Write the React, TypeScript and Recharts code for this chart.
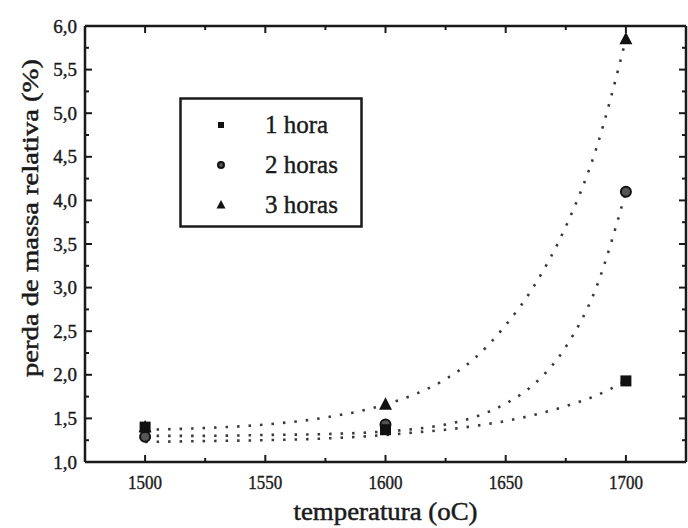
import React from 'react'
import { ComposedChart, Line, Scatter, XAxis, YAxis, Legend, Label } from 'recharts'

// measured points
const temperatures = [1500, 1600, 1700]
const umaHora = [1.4, 1.37, 1.93]
const duasHoras = [1.29, 1.43, 4.1]
const tresHoras = [1.4, 1.66, 5.85]

// dotted fit curves
const fitTemperatures = [1500, 1525, 1550, 1575, 1600, 1612.5, 1625, 1637.5, 1650, 1662.5, 1675, 1687.5, 1700]
const fitUmaHora = [1.23, 1.24, 1.25, 1.27, 1.31, 1.34, 1.37, 1.415, 1.47, 1.545, 1.64, 1.76, 1.93]
const fitDuasHoras = [1.3, 1.3, 1.31, 1.32, 1.35, 1.38, 1.43, 1.52, 1.67, 1.91, 2.32, 2.99, 4.1]
const fitTresHoras = [1.37, 1.39, 1.43, 1.51, 1.66, 1.78, 1.95, 2.2, 2.57, 3.05, 3.7, 4.58, 5.85]

const xTicks = [1500, 1525, 1550, 1575, 1600, 1625, 1650, 1675, 1700]
const yTicks = [1, 1.25, 1.5, 1.75, 2, 2.25, 2.5, 2.75, 3, 3.25, 3.5, 3.75, 4, 4.25, 4.5, 4.75, 5, 5.25, 5.5, 5.75, 6]

const seriesNames = ['1 hora', '2 horas', '3 horas']

const FONT = '"Liberation Serif", "Times New Roman", serif'
const INK = '#1a1a1a'

const toPoints = (xs: number[], ys: number[]) => xs.map((x, i) => ({ x, y: ys[i] }))

const isMajorX = (v: number) => v % 50 === 0
const isMajorY = (v: number) => Math.abs(v * 2 - Math.round(v * 2)) < 1e-6
const fmtY = (v: number) => v.toFixed(1).replace('.', ',')

const MAJOR = 7
const MINOR = 4

const BottomTick = (props: any) => {
  const { x, y, payload } = props
  const major = isMajorX(payload.value)
  return (
    <g>
      <line x1={x} x2={x} y1={y} y2={y - (major ? MAJOR : MINOR)} stroke={INK} strokeWidth={2} />
      {major && (
        <text x={x} y={y + 27} textAnchor='middle' fontFamily={FONT} fontSize={19} fill={INK}
          textLength={34} lengthAdjust='spacingAndGlyphs' stroke={INK} strokeWidth={0.4}>
          {payload.value}
        </text>
      )}
    </g>
  )
}

const TopTick = (props: any) => {
  const { x, y, payload } = props
  const major = isMajorX(payload.value)
  return <line x1={x} x2={x} y1={y} y2={y + (major ? MAJOR : MINOR)} stroke={INK} strokeWidth={2} />
}

const LeftTick = (props: any) => {
  const { x, y, payload } = props
  const major = isMajorY(payload.value)
  return (
    <g>
      <line x1={x} x2={x + (major ? MAJOR : MINOR)} y1={y} y2={y} stroke={INK} strokeWidth={2} />
      {major && (
        <text x={x - 8} y={y} textAnchor='end' dominantBaseline='central' fontFamily={FONT} fontSize={19}
          fill={INK} stroke={INK} strokeWidth={0.4}>
          {fmtY(payload.value)}
        </text>
      )}
    </g>
  )
}

const RightTick = (props: any) => {
  const { x, y, payload } = props
  const major = isMajorY(payload.value)
  return <line x1={x} x2={x - (major ? MAJOR : MINOR)} y1={y} y2={y} stroke={INK} strokeWidth={2} />
}

const drawSquare = (cx: number, cy: number, s: number) => (
  <rect x={cx - s / 2} y={cy - s / 2} width={s} height={s} fill='#111' />
)
const drawDot = (cx: number, cy: number, s: number) => (
  <circle cx={cx} cy={cy} r={s / 2} fill='#555' stroke='#111' strokeWidth={2} />
)
const drawTri = (cx: number, cy: number, s: number) => (
  <polygon
    points={`${cx},${cy - s * 0.55} ${cx - s / 2},${cy + s * 0.4} ${cx + s / 2},${cy + s * 0.4}`}
    fill='#111'
  />
)

const markers = [drawSquare, drawDot, drawTri]

const LegendBox = () => (
  <svg width={184} height={131} style={{ display: 'block' }}>
    <rect x={1.5} y={1.5} width={181} height={128} fill='#fff' stroke={INK} strokeWidth={2.5} />
    {seriesNames.map((name, i) => {
      const cy = 28 + i * 40
      return (
        <g key={name}>
          {markers[i](42, cy, i === 2 ? 9 : 6)}
          <text x={86} y={cy + 8} fontFamily={FONT} fontSize={25} fill={INK} stroke={INK} strokeWidth={0.4}>
            {name}
          </text>
        </g>
      )
    })}
  </svg>
)

const curveStyle = {
  stroke: '#3a3a3a',
  strokeWidth: 2.6,
  strokeDasharray: '2.5 9',
  dot: false as const,
  activeDot: false as const,
  isAnimationActive: false,
  type: 'monotone' as const,
  xAxisId: 'bottom',
  yAxisId: 'left',
  dataKey: 'y',
  legendType: 'none' as const,
}

export default function App() {
  return (
    <div style={{ position: 'absolute', left: 0, top: 0, background: '#fff' }}>
      <ComposedChart width={688} height={528} margin={{ top: 25, right: 1, bottom: 0, left: 0 }}>
        <XAxis xAxisId='bottom' dataKey='x' type='number' domain={[1475, 1725]} ticks={xTicks} interval={0}
          allowDataOverflow orientation='bottom' height={66} tickSize={0} tickMargin={0} tickLine={false}
          tick={<BottomTick />} axisLine={{ stroke: INK, strokeWidth: 2.5 }}>
          <Label
            content={(p: any) => {
              const vb = p.viewBox
              return (
                <text x={vb.x + vb.width / 2} y={vb.y + 58} textAnchor='middle' fontFamily={FONT} fontSize={26}
                  fill={INK} stroke={INK} strokeWidth={0.5} textLength={184} lengthAdjust='spacingAndGlyphs'>
                  temperatura (oC)
                </text>
              )
            }}
          />
        </XAxis>
        <XAxis xAxisId='top' dataKey='x' type='number' domain={[1475, 1725]} ticks={xTicks} interval={0}
          allowDataOverflow orientation='top' height={1} tickSize={0} tickMargin={0} tickLine={false}
          tick={<TopTick />} axisLine={{ stroke: INK, strokeWidth: 2.5 }} />
        <YAxis yAxisId='left' type='number' domain={[1, 6]} ticks={yTicks} interval={0} allowDataOverflow
          width={85} tickSize={0} tickMargin={0} tickLine={false} tick={<LeftTick />}
          axisLine={{ stroke: INK, strokeWidth: 2.5 }}>
          <Label
            content={(p: any) => {
              const vb = p.viewBox
              const cx = vb.x + 30
              const cy = vb.y + vb.height / 2 - 26
              return (
                <text x={cx} y={cy} transform={`rotate(-90 ${cx} ${cy})`} textAnchor='middle'
                  dominantBaseline='central' fontFamily={FONT} fontSize={24} fill={INK} stroke={INK}
                  strokeWidth={0.5} textLength={318} lengthAdjust='spacingAndGlyphs'>
                  perda de massa relativa (%)
                </text>
              )
            }}
          />
        </YAxis>
        <YAxis yAxisId='right' orientation='right' type='number' domain={[1, 6]} ticks={yTicks} interval={0}
          allowDataOverflow width={1} tickSize={0} tickMargin={0} tickLine={false} tick={<RightTick />}
          axisLine={{ stroke: INK, strokeWidth: 2.5 }} />

        <Line {...curveStyle} name='fit 1 hora' data={toPoints(fitTemperatures, fitUmaHora)} />
        <Line {...curveStyle} name='fit 2 horas' data={toPoints(fitTemperatures, fitDuasHoras)} />
        <Line {...curveStyle} name='fit 3 horas' data={toPoints(fitTemperatures, fitTresHoras)} />

        <Scatter name={seriesNames[2]} xAxisId='bottom' yAxisId='left' dataKey='y'
          data={toPoints(temperatures, tresHoras)} shape={(p: any) => drawTri(p.cx, p.cy, 13)}
          isAnimationActive={false} />
        <Scatter name={seriesNames[1]} xAxisId='bottom' yAxisId='left' dataKey='y'
          data={toPoints(temperatures, duasHoras)} shape={(p: any) => drawDot(p.cx, p.cy, 10)}
          isAnimationActive={false} />
        <Scatter name={seriesNames[0]} xAxisId='bottom' yAxisId='left' dataKey='y'
          data={toPoints(temperatures, umaHora)} shape={(p: any) => drawSquare(p.cx, p.cy, 11)}
          isAnimationActive={false} />

        <Legend content={() => <LegendBox />} layout='horizontal' verticalAlign='middle' align='center'
          wrapperStyle={{ position: 'absolute', left: 179, top: 97, width: 184, height: 131 }} />
      </ComposedChart>
    </div>
  )
}
